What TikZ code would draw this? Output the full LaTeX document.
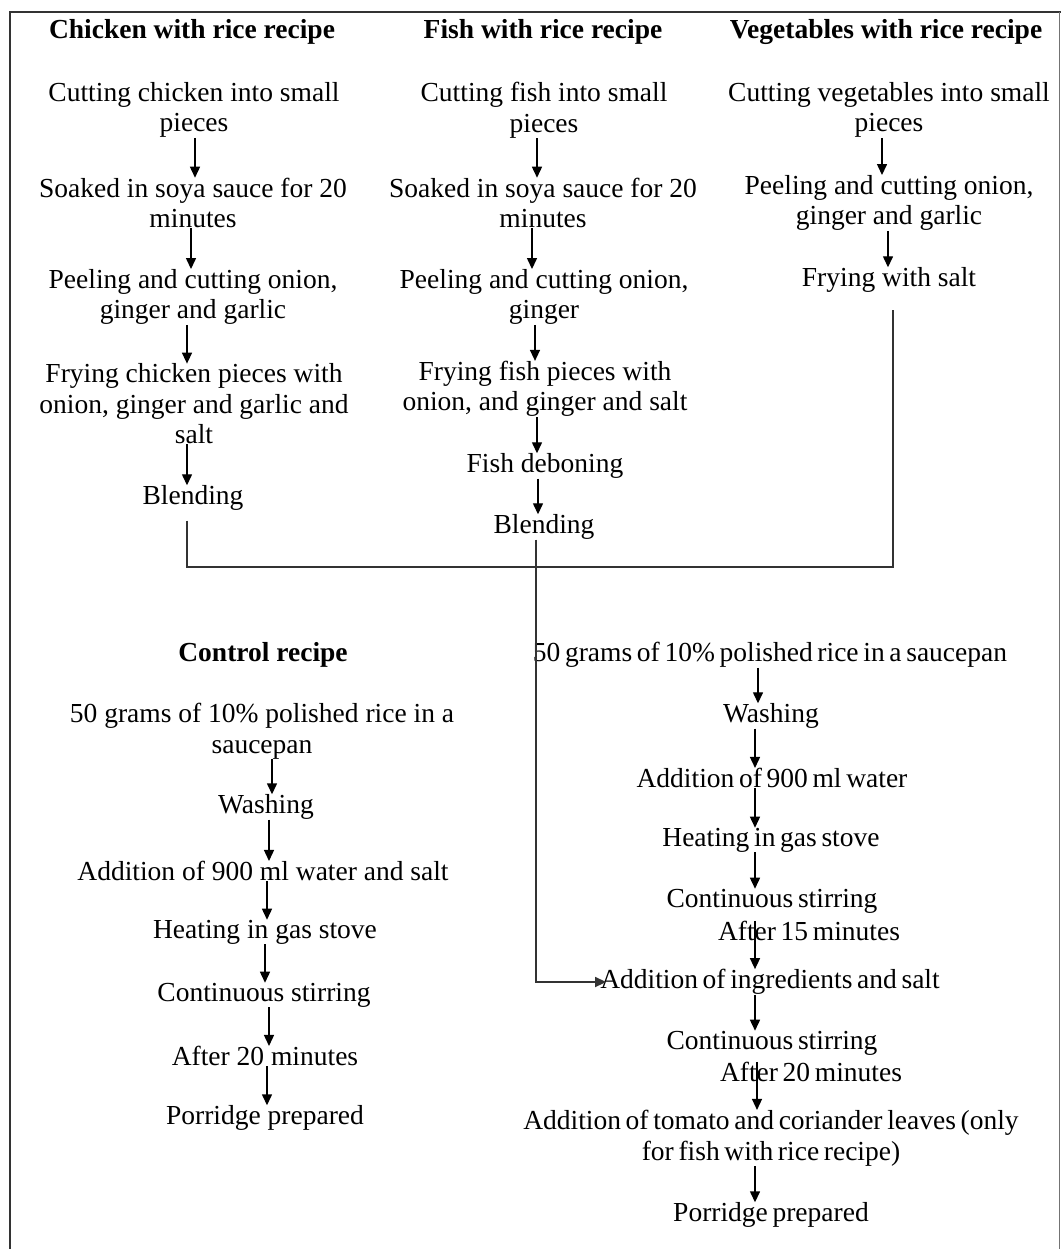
\documentclass[tikz,border=0pt]{standalone}
\usepackage{fontspec}
\setmainfont{Liberation Serif}
\usetikzlibrary{arrows.meta}
\newcommand{\txtfont}{\fontsize{27.5}{30.5}\selectfont}
\newcommand{\tightfont}{\fontsize{27.5}{30.5}\selectfont\spaceskip=0.17em plus 0.05em\relax}
\tikzset{
  txt/.style={inner sep=0pt, align=center, font=\txtfont, yshift=-3pt},
  rtxt/.style={inner sep=0pt, align=center, font=\tightfont, yshift=-3pt},
  hd/.style={inner sep=0pt, align=center, font=\txtfont\bfseries, yshift=-3pt},
  arr/.style={line width=1.4pt, black, -{Triangle[length=11pt,width=10pt]}},
  ln/.style={line width=1.7pt, black!80},
  frame/.style={line width=1.8pt, black!80},
}
\newcommand{\flow}[3]{\draw[arr] ([xshift=#3]#1.south) -- ([xshift=#3]#1.south |- #2.north);}
\begin{document}
\begin{tikzpicture}[x=1pt,y=-1pt]
\useasboundingbox (0,0) rectangle (1061,1249);
% frame
\draw[frame] (10,1249) -- (10,12) -- (1061,12);
\draw[line width=1pt, black!55] (1059,12) -- (1059,1249);

% headers
\node[hd] (h1) at (192,29) {Chicken with rice recipe};
\node[hd] (h2) at (543,29) {Fish with rice recipe};
\node[hd] (h3) at (886,29) {Vegetables with rice recipe};

% chicken column
\node[txt] (c1) at (194,107) {Cutting chicken into small\\pieces};
\node[txt] (c2) at (193,200) {Soaked in soya sauce for 20\\minutes};
\node[txt] (c3) at (193,294) {Peeling and cutting onion,\\ginger and garlic};
\node[txt] (c4) at (194,401) {Frying chicken pieces with\\onion, ginger and garlic and\\salt};
\node[txt] (c5) at (193,495) {Blending};
\flow{c1}{c2}{1pt}
\flow{c2}{c3}{-2pt}
\flow{c3}{c4}{-6pt}
\flow{c4}{c5}{-7pt}

% fish column
\node[txt] (f1) at (544,107) {Cutting fish into small\\pieces};
\node[txt] (f2) at (543,200) {Soaked in soya sauce for 20\\minutes};
\node[txt] (f3) at (544,294) {Peeling and cutting onion,\\ginger};
\node[txt] (f4) at (545,386) {Frying fish pieces with\\onion, and ginger and salt};
\node[txt] (f5) at (545,463) {Fish deboning};
\node[txt] (f6) at (544,524) {Blending};
\flow{f1}{f2}{-7pt}
\flow{f2}{f3}{-11pt}
\flow{f3}{f4}{-9pt}
\flow{f4}{f5}{-8pt}
\flow{f5}{f6}{-7pt}

% vegetables column
\node[txt] (v1) at (889,107) {Cutting vegetables into small\\pieces};
\node[txt] (v2) at (889,200) {Peeling and cutting onion,\\ginger and garlic};
\node[txt] (v3) at (889,277) {Frying with salt};
\flow{v1}{v2}{-7pt}
\flow{v2}{v3}{-1pt}

% control recipe
\node[hd] (k0) at (263,652) {Control recipe};
\node[txt] (k1) at (262,728) {50 grams of 10\% polished rice in a\\saucepan};
\node[txt] (k2) at (266,804) {Washing};
\node[txt] (k3) at (263,868) {Addition of 900 ml water and salt};
\node[txt] (k4) at (265,929) {Heating in gas stove};
\node[txt] (k5) at (264,992) {Continuous stirring};
\node[txt] (k6) at (265,1053) {After 20 minutes};
\node[txt] (k7) at (265,1115) {Porridge prepared};
\flow{k1}{k2}{10pt}
\flow{k2}{k3}{3pt}
\flow{k3}{k4}{4pt}
\flow{k4}{k5}{0pt}
\flow{k5}{k6}{5pt}
\flow{k6}{k7}{2pt}

% main recipe (right)
\node[rtxt] (r1) at (770,652) {50 grams of 10\% polished rice in a saucepan};
\node[rtxt] (r2) at (771,713) {Washing};
\node[rtxt] (r3) at (772,775) {Addition of 900 ml water};
\node[rtxt] (r4) at (771,837) {Heating in gas stove};
\node[rtxt] (r5) at (772,898) {Continuous stirring};
\node[rtxt] (r6) at (809,928) {After 15 minutes};
\node[rtxt] (r7) at (770,979) {Addition of ingredients and salt};
\node[rtxt] (r8) at (772,1040) {Continuous stirring};
\node[rtxt] (r9) at (811,1069) {After 20 minutes};
\node[rtxt] (r10) at (771,1135) {Addition of tomato and coriander leaves (only\\for fish with rice recipe)};
\node[rtxt] (r11) at (771,1212) {Porridge prepared};
\flow{r1}{r2}{-12pt}
\flow{r2}{r3}{-16pt}
\flow{r3}{r4}{-17pt}
\flow{r4}{r5}{-16pt}
\draw[arr] ([xshift=-17pt]r5.south |- r6.north) -- ([xshift=-17pt]r5.south |- r7.north);
\flow{r7}{r8}{-15pt}
\draw[arr] ([xshift=-15pt]r8.south |- r9.north) -- ([xshift=-15pt]r8.south |- r10.north);
\flow{r10}{r11}{-16pt}

% merging connectors
\coordinate (mg) at (537,567);
\draw[ln] ([xshift=-6pt,yshift=-10pt]c5.south) |- (mg) -| ([xshift=4pt,yshift=-17pt]v3.south);
\draw[ln,-{Triangle[length=11pt,width=10pt]}] ([xshift=-8pt]f6.south) |- ([xshift=6pt]r7.west);
\end{tikzpicture}
\end{document}
